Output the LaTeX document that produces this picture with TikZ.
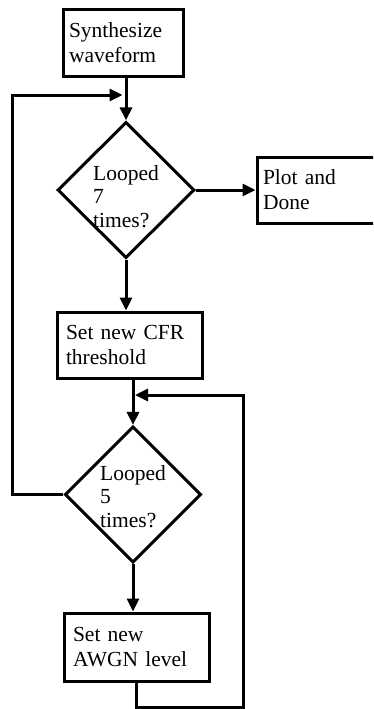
\documentclass[tikz,border=0pt]{standalone}
\usepackage{fontspec}
\setmainfont{Liberation Serif}
\usetikzlibrary{shapes.geometric,arrows.meta}
\newcommand\dlines[2]{\raisebox{#1}[\height][\depth]{\begin{tabular}{@{}l@{}}#2\end{tabular}}}
\begin{document}
\begin{tikzpicture}[x=1pt,y=-1pt,
  line width=3pt,
  boxnode/.style={draw,rectangle,align=left,inner ysep=0pt,
    font=\fontsize{21.5}{25}\selectfont},
  decision/.style={draw,diamond,inner sep=0pt,
    font=\fontsize{21.5}{23.5}\selectfont},
  arr/.style={-{Triangle[length=13pt,width=12pt]}}]
\useasboundingbox (0,0) rectangle (373,709);
\clip (0,0) rectangle (373,709);
\node[boxnode,inner xsep=6pt,text width=108pt,minimum height=66pt] (box1) at (123,43) {Synthesize\\waveform};
\node[decision,minimum width=137pt,minimum height=136pt] (d1) at (126,190) {\dlines{-8.8pt}{Looped\\7\\times?}};
\node[boxnode,inner xsep=6pt,text width=108pt,minimum height=66pt] (plot) at (317,190) {Plot and\\Done};
\node[boxnode,inner xsep=9pt,text width=127pt,minimum height=66pt] (cfr) at (129.5,345) {Set new CFR\\threshold};
\node[decision,minimum width=136pt,minimum height=135pt] (d2) at (133,494.5) {\dlines{-4.3pt}{Looped\\5\\times?}};
\node[boxnode,inner xsep=9pt,text width=127pt,minimum height=68pt] (awgn) at (136.5,647) {Set new\\AWGN level};
\coordinate (L1) at (12,95);
\coordinate (J1) at (124,95);
\coordinate (R1) at (243,707);
\coordinate (R2) at (243,395);
\coordinate (J2) at (135,395);
\draw[arr] (d1.north |- box1.south) -- (d1.north);
\draw[arr] (d1.east) -- (plot.west);
\draw[arr] (d1.south) -- (d1.south |- cfr.north);
\draw[arr] (d2.north |- cfr.south) -- (d2.north);
\draw[arr] (d2.south) -- (d2.south |- awgn.north);
\draw[arr] (d2.west) -| (L1) -- ([xshift=-1.5pt]J1);
\draw[arr] (awgn.south) |- (R1) -- (R2) -- (J2);
\end{tikzpicture}
\end{document}
